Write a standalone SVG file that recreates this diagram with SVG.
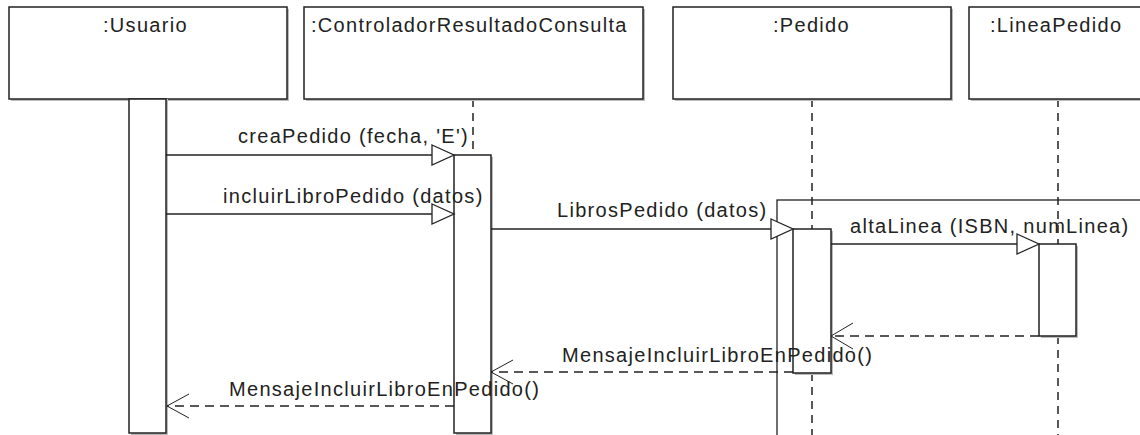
<svg xmlns="http://www.w3.org/2000/svg" width="1140" height="435" viewBox="0 0 1140 435">
<style>
  text { font-family: "Liberation Sans", Arial, sans-serif; font-size: 20px; fill: #222; letter-spacing: 1.3px; }
  .box { fill: #fff; stroke: #222; stroke-width: 1.5; }
  .shadow { fill: #bbb; }
  .life { stroke: #222; stroke-width: 1.5; stroke-dasharray: 8 6; fill: none; }
  .msg { stroke: #222; stroke-width: 1.3; fill: none; }
  .ret { stroke: #222; stroke-width: 1.3; fill: none; stroke-dasharray: 9 6; }
  .head { fill: #fff; stroke: #222; stroke-width: 1.3; }
  .open { stroke: #222; stroke-width: 1; fill: none; }
</style>

<g id="lifelines">
  <line class="life" x1="473" y1="99" x2="473" y2="155"/>
  <line class="life" x1="812" y1="99" x2="812" y2="229"/>
  <line class="life" x1="812" y1="373" x2="812" y2="435"/>
  <line class="life" x1="1058" y1="99" x2="1058" y2="244"/>
  <line class="life" x1="1058" y1="336" x2="1058" y2="435"/>
</g>

<g id="usuario">
  <rect class="shadow" x="11" y="9" width="278" height="92"/>
  <rect class="box" x="9" y="7" width="278" height="92"/>
  <text x="103" y="32">:Usuario</text>
</g>
<g id="controlador">
  <rect class="shadow" x="306" y="9" width="339" height="92"/>
  <rect class="box" x="304" y="7" width="339" height="92"/>
  <text x="311" y="32">:ControladorResultadoConsulta</text>
</g>
<g id="pedido">
  <rect class="shadow" x="675" y="9" width="278" height="92"/>
  <rect class="box" x="673" y="7" width="278" height="92"/>
  <text x="773" y="32">:Pedido</text>
</g>
<g id="lineapedido">
  <rect class="shadow" x="971" y="9" width="190" height="92"/>
  <rect class="box" x="969" y="7" width="190" height="92"/>
  <text x="990" y="32">:LineaPedido</text>
</g>

<g id="act-usuario">
  <rect class="shadow" x="131" y="99" width="37" height="336"/>
  <rect class="box" x="129" y="99" width="37" height="334"/>
</g>
<g id="act-controlador">
  <rect class="shadow" x="456" y="157" width="37" height="278"/>
  <rect class="box" x="454" y="155" width="37" height="278"/>
</g>
<g id="frame-pedido">
  <rect x="777" y="200" width="400" height="300" fill="none" stroke="#222" stroke-width="1.3"/>
</g>
<g id="act-pedido">
  <rect class="shadow" x="795" y="231" width="38" height="144"/>
  <rect class="box" x="793" y="229" width="38" height="144"/>
</g>
<g id="act-lineapedido">
  <rect class="shadow" x="1041" y="246" width="37" height="92"/>
  <rect class="box" x="1039" y="244" width="37" height="92"/>
</g>

<g id="connectors">
  <line class="msg" x1="166" y1="155" x2="432" y2="155"/>
  <polygon class="head" points="432,145 454,155 432,165"/>
  <text x="238" y="143">creaPedido (fecha, 'E')</text>

  <line class="msg" x1="166" y1="214" x2="432" y2="214"/>
  <polygon class="head" points="432,204 454,214 432,224"/>
  <text x="223" y="203">incluirLibroPedido (datos)</text>

  <line class="msg" x1="491" y1="229" x2="771" y2="229"/>
  <polygon class="head" points="771,219 793,229 771,239"/>
  <text x="557" y="217">LibrosPedido (datos)</text>

  <line class="msg" x1="831" y1="244" x2="1017" y2="244"/>
  <polygon class="head" points="1017,234 1039,244 1017,254"/>
  <text x="850" y="233">altaLinea (ISBN, numLinea)</text>

  <line class="ret" x1="1039" y1="336" x2="832" y2="336"/>
  <polyline class="open" points="853,323 831,336 853,349"/>

  <line class="ret" x1="793" y1="372" x2="492" y2="372"/>
  <polyline class="open" points="513,360 491,372 513,384"/>
  <text x="562" y="362">MensajeIncluirLibroEnPedido()</text>

  <line class="ret" x1="454" y1="406" x2="167" y2="406"/>
  <polyline class="open" points="189,394 167,406 189,418"/>
  <text x="229" y="396">MensajeIncluirLibroEnPedido()</text>
</g>
</svg>
